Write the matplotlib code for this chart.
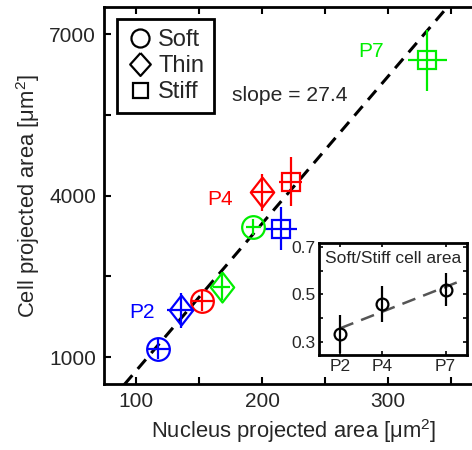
import numpy as np
import matplotlib
matplotlib.use("Agg")
import matplotlib.pyplot as plt
from matplotlib.lines import Line2D

plt.rcParams['font.family'] = ['Liberation Sans', 'DejaVu Sans']
plt.rcParams['mathtext.fontset'] = 'custom'
plt.rcParams['mathtext.rm'] = 'Liberation Sans'
plt.rcParams['lines.scale_dashes'] = False

# ---- data -------------------------------------------------------------
passages = ['P2', 'P4', 'P7']
passage_colors = ['#0000ff', '#ff0000', '#00ee00']

nucleus_soft = [117.7, 152.8, 193.0]
nucleus_soft_err = [9, 8, 6]
cell_soft = [1156, 2039, 3425]
cell_soft_err = [200, 190, 150]

nucleus_thin = [135.4, 200.0, 167.9]
nucleus_thin_err = [10.7, 9, 7]
cell_thin = [1866, 4061, 2311]
cell_thin_err = [325, 350, 250]

nucleus_stiff = [214.9, 222.8, 331.1]
nucleus_stiff_err = [13, 9, 15.6]
cell_stiff = [3382, 4260, 6518]
cell_stiff_err = [400, 460, 570]

fit_slope = 27.4
fit_intercept = -2000

ratio_x = [2, 4, 7]
ratio = [0.335, 0.459, 0.519]
ratio_err = [0.078, 0.075, 0.069]
ratio_fit_slope = 0.0346
ratio_fit_at_p2 = 0.359

label_pos = {'P2': (104.5, 1835), 'P4': (167, 3926), 'P7': (286.5, 6677)}

# ---- figure -------------------------------------------------------------
fig = plt.figure(figsize=(4.72, 4.5), dpi=100)
ax = fig.add_axes([0.221, 0.1467, 0.802, 0.837])
text_c = '#262626'


def diamond(ratio_w):
    return [(0, 1), (ratio_w, 0), (0, -1), (-ratio_w, 0), (0, 1)]


fx = np.array([80, 360])
ax.plot(fx, fit_slope * fx + fit_intercept, color='k', lw=2.2,
        dashes=(9, 6), zorder=1)

groups = [
    (nucleus_soft, nucleus_soft_err, cell_soft, cell_soft_err, 'o', 16.3),
    (nucleus_thin, nucleus_thin_err, cell_thin, cell_thin_err, diamond(0.78), 21.6),
    (nucleus_stiff, nucleus_stiff_err, cell_stiff, cell_stiff_err, 's', 13.3),
]
for xs, xe, ys, ye, mk, ms in groups:
    for i in range(3):
        ax.errorbar(xs[i], ys[i], xerr=xe[i], yerr=ye[i], fmt='none',
                    ecolor=passage_colors[i], elinewidth=1.6, capsize=0,
                    zorder=2)
        ax.plot(xs[i], ys[i], marker=mk, ms=ms, mfc='none',
                mec=passage_colors[i], mew=1.6, ls='none', zorder=3)

for i, p in enumerate(passages):
    ax.text(*label_pos[p], p, color=passage_colors[i], fontsize=15,
            ha='center', va='center')

ax.text(175.8, 5868, 'slope = 27.4', color=text_c, fontsize=15.2,
        ha='left', va='center')

ax.set_xlim(75, 375)
ax.set_ylim(500, 7500)
ax.set_xticks([100, 150, 200, 250, 300, 350])
ax.set_xticklabels(['100', '', '200', '', '300', ''])
ax.set_yticks([1000, 2500, 4000, 5500, 7000])
ax.set_yticklabels(['1000', '', '4000', '', '7000'])
ax.tick_params(direction='in', length=5, width=1.5, labelsize=15,
               labelcolor=text_c, top=True, right=True, pad=6)
for s in ax.spines.values():
    s.set_linewidth(2)
ax.set_xlabel(r'Nucleus projected area [$\mathregular{\mu m^2}$]',
              fontsize=15.8, color=text_c, labelpad=4)
ax.set_ylabel(r'Cell projected area [$\mathregular{\mu m^2}$]',
              fontsize=15.8, color=text_c, labelpad=5)

handles = [Line2D([], [], marker='o', ms=13, mfc='none', mec='k', mew=1.6, ls='none'),
           Line2D([], [], marker=diamond(0.9), ms=16.5, mfc='none', mec='k', mew=1.6, ls='none'),
           Line2D([], [], marker='s', ms=10.8, mfc='none', mec='k', mew=1.6, ls='none')]
leg = ax.legend(handles, ['Soft', 'Thin', 'Stiff'], loc='upper left',
                bbox_to_anchor=(0.033, 0.968), borderaxespad=0,
                fontsize=17, frameon=True, fancybox=False, framealpha=1,
                edgecolor='k', handlelength=1.2, handletextpad=0.15,
                labelspacing=0.18, borderpad=0.4)
leg.get_frame().set_linewidth(2)
for t in leg.get_texts():
    t.set_color(text_c)

# ---- inset: soft/stiff ratio -------------------------------------------
ins = fig.add_axes([0.6765, 0.2111, 0.3123, 0.2482])
rx = np.array([2.0, 7.7])
ins.plot(rx, ratio_fit_at_p2 + ratio_fit_slope * (rx - 2), color='#555555',
         lw=1.8, dashes=(10, 6), zorder=1)
ins.errorbar(ratio_x, ratio, yerr=ratio_err, fmt='o', ms=8.5, mfc='none',
             mec='k', mew=1.6, ecolor='k', elinewidth=1.6, capsize=0, zorder=2)
ins.set_xlim(1, 8)
ins.set_ylim(0.247, 0.714)
ins.set_xticks(ratio_x)
ins.set_xticklabels(passages)
ins.set_yticks([0.3, 0.4, 0.5, 0.6, 0.7])
ins.set_yticklabels(['0.3', '', '0.5', '', '0.7'])
ins.tick_params(direction='in', length=3, width=1.2, labelsize=12.5,
                labelcolor=text_c, top=True, right=True, pad=3)
for s in ins.spines.values():
    s.set_linewidth(2)
ins.text(0.5, 0.93, 'Soft/Stiff cell area', transform=ins.transAxes,
         ha='center', va='top', fontsize=12.5, color=text_c)

fig.savefig('out.png', dpi=100)
